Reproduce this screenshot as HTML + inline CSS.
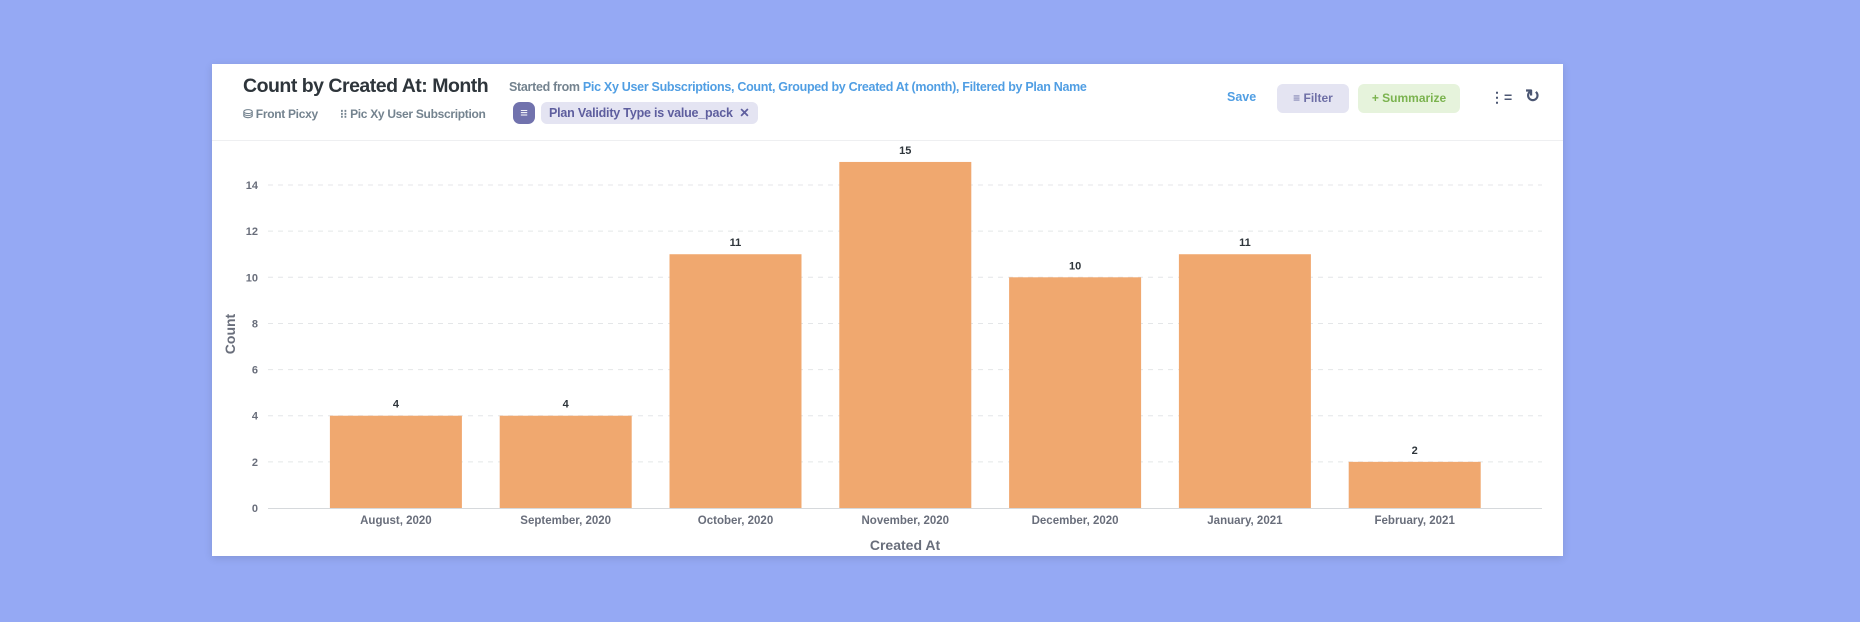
<!DOCTYPE html>
<html><head><meta charset="utf-8">
<style>
html,body{margin:0;padding:0;}
body{width:1860px;height:622px;background:#95a9f4;position:relative;overflow:hidden;font-family:"Liberation Sans",sans-serif;}
.card{position:absolute;left:212px;top:64px;width:1351px;height:492px;background:#fff;box-shadow:0 2px 8px rgba(0,0,0,.12);}
.abs{position:absolute;white-space:nowrap;}
</style></head>
<body>
<div class="card">
  <div class="abs" style="left:31px;top:11px;font-size:19.5px;font-weight:bold;color:#2e353b;letter-spacing:-0.5px;">Count by Created At: Month</div>
  <div class="abs" style="left:297px;top:16px;font-size:12.5px;color:#74838f;font-weight:bold;letter-spacing:-0.3px;">Started from <span style="color:#509ee3">Pic Xy User Subscriptions, Count, Grouped by Created At (month), Filtered by Plan Name</span></div>
  <div class="abs" style="left:31px;top:43px;font-size:12px;color:#74838f;font-weight:bold;letter-spacing:-0.3px;">&#9921; Front Picxy</div>
  <div class="abs" style="left:128px;top:43px;font-size:12px;color:#74838f;font-weight:bold;letter-spacing:-0.3px;">&#8285;&#8285; Pic Xy User Subscription</div>
  <div class="abs" style="left:301px;top:38px;width:22px;height:22px;border-radius:7px;background:#7172ad;color:#fff;font-size:13px;text-align:center;line-height:22px;">&#8801;</div>
  <div class="abs" style="left:329px;top:38px;width:217px;height:22px;border-radius:6px;background:#e4e4f2;color:#5e5e9e;font-size:12.5px;font-weight:bold;line-height:22px;padding-left:8px;box-sizing:border-box;letter-spacing:-0.2px;">Plan Validity Type is value_pack &nbsp;&#10005;</div>
  <div class="abs" style="left:1015px;top:26px;font-size:12.5px;font-weight:bold;color:#509ee3;">Save</div>
  <div class="abs" style="left:1065px;top:20px;width:72px;height:29px;border-radius:6px;background:#e4e4f2;color:#6e6fa6;font-size:12px;font-weight:bold;line-height:29px;text-align:center;">&#8801; Filter</div>
  <div class="abs" style="left:1146px;top:20px;width:102px;height:29px;border-radius:6px;background:#e6f3dc;color:#7bb34f;font-size:12px;font-weight:bold;line-height:29px;text-align:center;">+ Summarize</div>
  <div class="abs" style="left:1278px;top:25px;font-size:14px;color:#4c5773;font-weight:bold;">&#8942;=</div>
  <div class="abs" style="left:1313px;top:22px;font-size:18px;color:#4c5773;font-weight:bold;">&#8635;</div>
  <div class="abs" style="left:0;top:76px;width:1351px;height:1px;background:#eeeff1;"></div>
</div>
<svg id="chart" width="1860" height="622" style="position:absolute;left:0;top:0;font-family:'Liberation Sans',sans-serif;"></svg>
<script>
const categories=["August, 2020","September, 2020","October, 2020","November, 2020","December, 2020","January, 2021","February, 2021"];
const counts=[4,4,11,15,10,11,2];
const yTicks=[0,2,4,6,8,10,12,14];
const svg=document.getElementById('chart');
const NS='http://www.w3.org/2000/svg';
const y0=508, perUnit=23.07, bandX0=311, band=169.8, barW=132, axL=268, axR=1542;
const y=v=>y0-v*perUnit;
const xb=i=>bandX0+i*band+(band-barW)/2;
function mk(t,a){const e=document.createElementNS(NS,t);for(const k in a)e.setAttribute(k,a[k]);svg.appendChild(e);return e;}
yTicks.forEach(t=>{
  if(t>0){const g=mk('line',{x1:axL,x2:axR,y1:y(t),y2:y(t),stroke:'#e4e6e8','stroke-dasharray':'5,5'});
  
  }
  const l=mk('text',{x:258,y:y(t)+4,'text-anchor':'end','font-size':11,'font-weight':'bold',fill:'#696e7b'});
  l.textContent=t;
  
  
});
const ax=mk('line',{x1:axL,x2:axR,y1:y0+0.5,y2:y0+0.5,stroke:'#d6d9dc'});


categories.forEach((c,i)=>{
  const b=mk('rect',{x:xb(i),y:y(counts[i]),width:barW,height:counts[i]*perUnit,fill:'#f0a86f'});
  
  
  const v=mk('text',{x:xb(i)+barW/2,y:y(counts[i])-8,'text-anchor':'middle','font-size':11,'font-weight':'bold',fill:'#2e353b'});
  v.textContent=counts[i];
  
  
  const x=mk('text',{x:xb(i)+barW/2,y:524,'text-anchor':'middle','font-size':11.5,'font-weight':'bold',fill:'#696e7b'});
  x.textContent=c;
  
  
});
const xt=mk('text',{x:905,y:550,'text-anchor':'middle','font-size':14,'font-weight':'bold',fill:'#696e7b'});
xt.textContent='Created At';


const yt=mk('text',{x:0,y:0,'text-anchor':'middle','font-size':14,'font-weight':'bold',fill:'#696e7b',transform:'translate(235,334) rotate(-90)'});
yt.textContent='Count';


</script>
</body></html>
